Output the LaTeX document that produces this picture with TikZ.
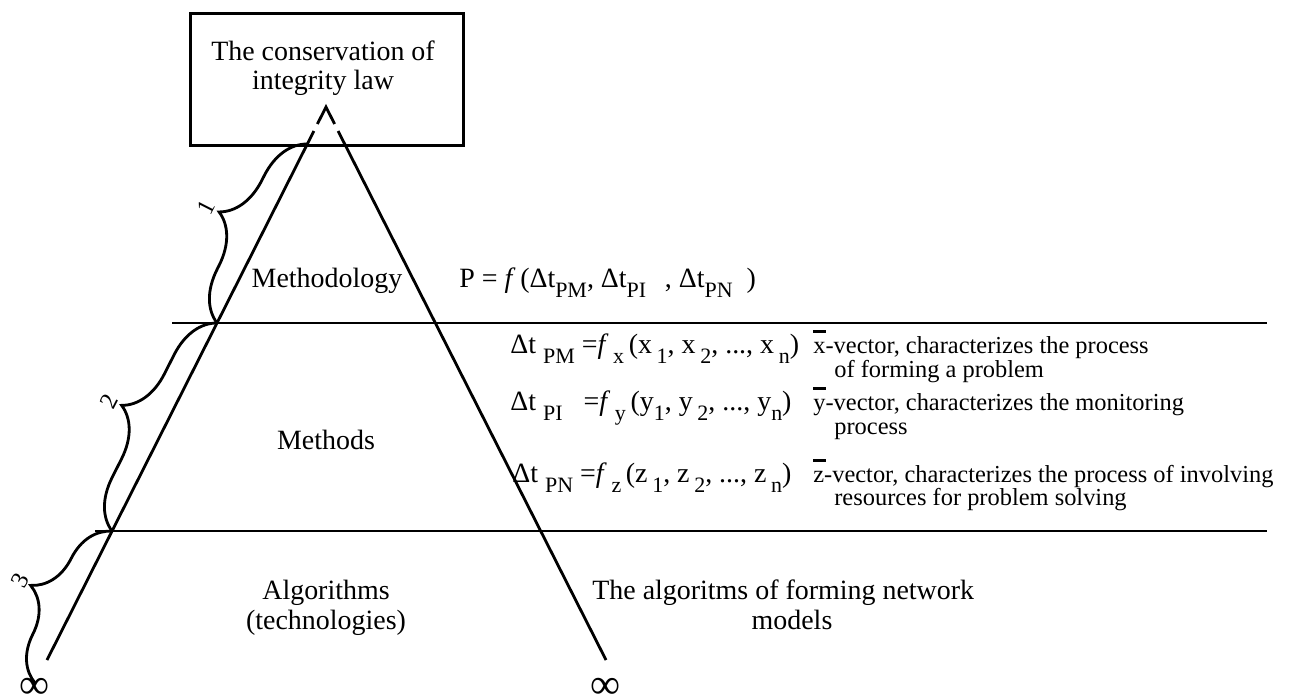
\documentclass[tikz,border=0pt]{standalone}
\usepackage{fontspec}
\setmainfont{Liberation Serif}
\usetikzlibrary{decorations.pathreplacing,calc}
\newcommand\lo[2][-0.36em]{\raisebox{#1}{\fontsize{12.5pt}{13pt}\selectfont #2}}
\newcommand\vbar[1]{\leavevmode\rlap{\raisebox{0.82em}{\rule{0.52em}{1.8pt}}}#1}
\begin{document}
\begin{tikzpicture}[x=0.02cm,y=-0.02cm,
  lw/.style={line width=1.6pt},
  big/.style={font=\fontsize{15.9pt}{17pt}\selectfont, inner sep=0pt},
  eq/.style={font=\fontsize{15.9pt}{17pt}\selectfont, inner sep=0pt, anchor=base west},
  txt/.style={font=\fontsize{13.9pt}{16pt}\selectfont, inner sep=0pt, anchor=base west},
  bracedeco/.style={decorate, decoration={brace, amplitude=0.96cm}, line width=1.6pt},
  numlab/.style={font=\fontsize{13.9pt}{14pt}\selectfont, inner sep=0pt, rotate=63},
  inf/.style={font=\fontsize{24pt}{24pt}\selectfont, inner sep=0pt}
]
\useasboundingbox (0,0) rectangle (1291,699);
% top box
\node (law) [draw, lw, minimum width=5.46cm, minimum height=2.64cm, anchor=north west, inner sep=0pt] at (189,12) {};
\node[big, anchor=base] (law1) at (323,61) {The conservation of};
\node[big, anchor=base] (law2) at (323,90) {integrity law};
% triangle
\coordinate (apex) at (326,107);
\coordinate (la) at (317.4,124);
\coordinate (lb) at (313.9,131);
\coordinate (ra) at (334.6,124);
\coordinate (rb) at (338.1,131);
\coordinate (lend) at (47,660);
\coordinate (rend) at (606,660);
\draw[lw] (la) -- (apex) -- (ra);
\draw[lw] (lb) -- (lend);
\draw[lw] (rb) -- (rend);
% horizontal lines
\coordinate (h1a) at (172,323);
\coordinate (h1b) at (1267,323);
\coordinate (h2a) at (95,531);
\coordinate (h2b) at (1267,531);
\draw[lw] (h1a) -- (h1b);
\draw[lw] (h2a) -- (h2b);
% braces
\coordinate (b1top) at (307,144);
\coordinate (c1) at (217,323);
\coordinate (c2) at (112,531);
\coordinate (b3bot) at (35,683);
\draw[bracedeco] (c1) -- (b1top);
\draw[bracedeco] (c2) -- (c1);
\draw[bracedeco] (b3bot) -- (c2);
\node[numlab] (n1) at (206,207) {1};
\node[numlab] (n2) at (109,401) {2};
\node[numlab] (n3) at (20,580) {3};
\node[inf] (inf1) at (35,688) {∞};
\node[inf] (inf2) at (606,688) {∞};
% labels
\node[big, anchor=base] (meth) at (327,287) {Methodology};
\node[big, anchor=base] (methods) at (326,449) {Methods};
\node[big, anchor=base] (alg1) at (326,599) {Algorithms};
\node[big, anchor=base] (alg2) at (326,629) {(technologies)};
\node[big, anchor=base west] (net1) at (592,599) {The algoritms of forming network};
\node[big, anchor=base] (net2) at (792,629) {models};
% formulas
\node[eq] (pf) at (459,287) {P = \textit{f}\,(Δt\lo{PM}, Δt\lo{PI}\enspace\,, Δt\lo{PN}\enspace)};
\node[eq] (f1) at (510,353) {Δt\ \lo{PM} =\textit{f}\,\lo{x}\,(x\,\lo{1}, x\,\lo{2}, ..., x\,\lo{n})};
\node[txt] (d1) at (813,353) {\vbar{x}-vector, characterizes the process};
\node[txt] (d1b) at (834,377) {of forming a problem};
\node[eq] (f2) at (510,410) {Δt\ \lo{PI}\enspace\ =\textit{f}\,\lo{y}\,(y\lo{1}, y\,\lo{2}, ..., y\lo{n})};
\node[txt] (d2) at (813,410) {\vbar{y}-vector, characterizes the monitoring};
\node[txt] (d2b) at (834,434) {process};
\node[eq] (f3) at (512,482) {Δt\ \lo{PN} =\textit{f}\,\lo{z}\,(z\,\lo{1}, z\,\lo{2}, ..., z\,\lo{n})};
\node[txt] (d3) at (813,482) {\vbar{z}-vector, characterizes the process of involving};
\node[txt] (d3b) at (834,505) {resources for problem solving};
\end{tikzpicture}
\end{document}
